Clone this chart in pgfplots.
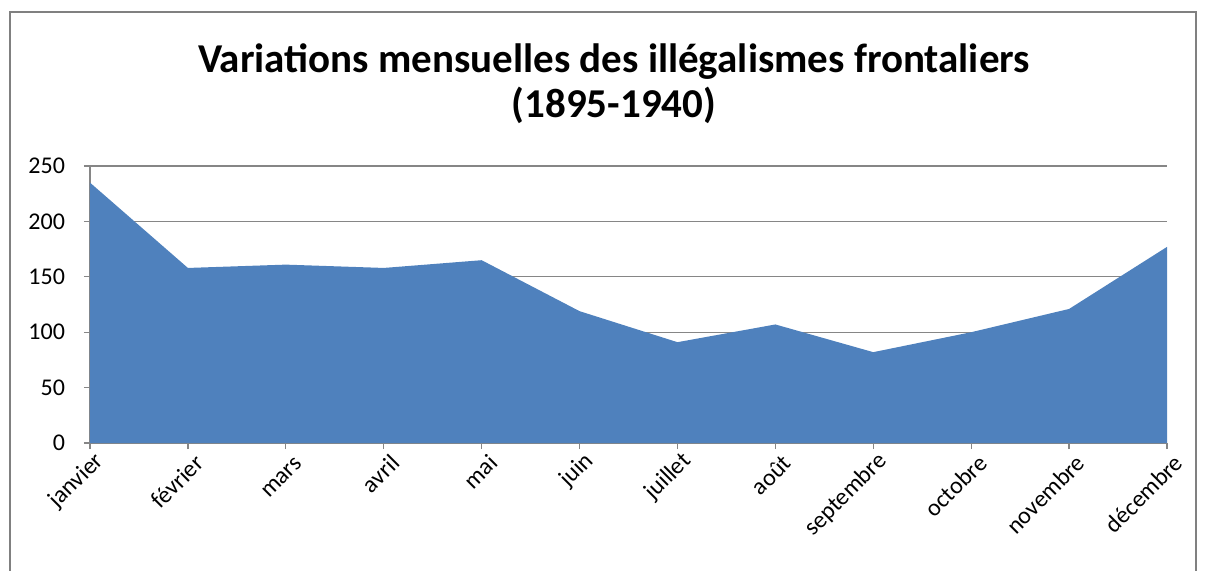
\documentclass[border=0pt]{standalone}
\usepackage{fontspec}
\setmainfont{Carlito}
\usepackage{pgfplots}
\pgfplotsset{compat=1.18}
\definecolor{areablue}{RGB}{79,129,189}
\definecolor{gridgray}{RGB}{134,134,134}
\definecolor{framegray}{RGB}{128,128,128}

\pgfplotstableread{
x y
0 235
1 158
2 161
3 158
4 165
5 119
6 91
7 107
8 82
9 100
10 121
11 177
}\monthly

\begin{document}
\begin{tikzpicture}
\path[use as bounding box] (-45pt,-63.5pt) rectangle (557.5pt,221.5pt);
\draw[framegray,line width=1pt] (-40pt,-70pt) -- (-40pt,215.5pt) -- (553pt,215.5pt) -- (553pt,-70pt);
\begin{axis}[
  at={(0,0)}, anchor=origin,
  scale only axis,
  width=538.5pt, height=138.5pt,
  xmin=0, xmax=11, ymin=0, ymax=250,
  axis x line*=bottom, axis y line*=left,
  axis line style={gridgray, line width=0.6pt},
  xtick=data,
  xticklabels={janvier,février,mars,avril,mai,juin,juillet,août,septembre,octobre,novembre,décembre},
  x tick label style={xshift=9pt, yshift=-8pt, rotate=45, anchor=south east, inner sep=0pt, font=\fontsize{12}{14}\selectfont},
  ytick={0,50,...,250},
  y tick label style={xshift=-6pt, font=\fontsize{12}{14}\selectfont},
  /pgf/number format/assume math mode=true,
  ymajorgrids, grid style={gridgray, line width=0.6pt},
  tick style={gridgray, line width=0.6pt},
  tick align=outside,
  major tick length=3pt,
  enlargelimits=false,
  clip=false,
]
\addplot[fill=areablue, draw=none] table[x=x,y=y] {\monthly} \closedcycle;
\end{axis}
\node[align=center, font=\fontsize{20.5}{22.5}\selectfont\bfseries] at (262pt,179.5pt)
  {Variations mensuelles des illégalismes frontaliers\\(1895-1940)};
\end{tikzpicture}
\end{document}
